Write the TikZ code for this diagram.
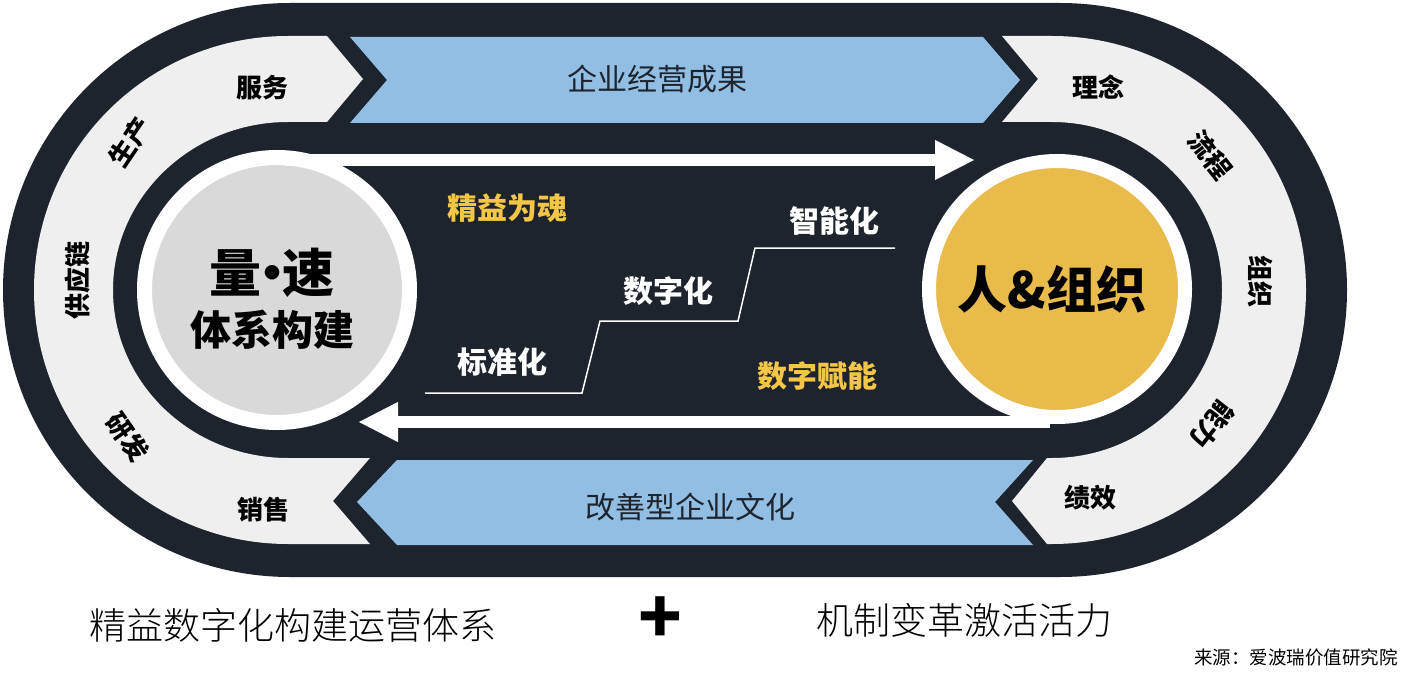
\documentclass[tikz,border=0pt]{standalone}
\usepackage{fontspec}
\newfontfamily\cjk{Noto Sans CJK SC}
\newfontfamily\cjklight{Noto Sans CJK SC Light}
\usetikzlibrary{arrows.meta}
\definecolor{navy}{HTML}{1D242E}
\definecolor{lgray}{HTML}{EFEFEF}
\definecolor{bandblue}{HTML}{92BEE4}
\definecolor{cgray}{HTML}{D9D9D9}
\definecolor{gold}{HTML}{E8BB4B}
\definecolor{ytext}{HTML}{F4C646}
\tikzset{
  fsz/.style={font=\cjk\fontsize{#1}{#1}\selectfont, inner sep=0pt},
  lfz/.style={font=\cjklight\fontsize{#1}{#1}\selectfont, inner sep=0pt},
  bfz/.style={font=\cjk\bfseries\fontsize{#1}{#1}\selectfont, inner sep=0pt},
  ringlbl/.style={bfz=26, text=black},
  steplbl/.style={bfz=30, text=white},
  keylbl/.style={bfz=30, text=ytext},
  bandlbl/.style={fsz=30, text=navy},
  warrow/.style={draw=white, line width=12pt, -{Triangle[length=40pt,width=37pt]}},
  stepline/.style={draw=white, line width=1.5pt},
}
\begin{document}
\begin{tikzpicture}[x=1pt, y=-1pt]
\useasboundingbox (0,0) rectangle (1411,674);
\fill[white] (0,0) rectangle (1411,674);
% outer stadium
\fill[navy] (290,3) -- (1060,3) arc[start angle=-90, end angle=90, radius=287]
  -- (290,577) arc[start angle=90, end angle=270, radius=287] -- cycle;
% left gray band
\fill[lgray] (327,36) -- (363,79) -- (327,122) -- (288,122)
  arc[start angle=270, end angle=90, x radius=175, y radius=168]
  -- (370,458) -- (333,501) -- (370,544) -- (288,544)
  arc[start angle=90, end angle=270, radius=254] -- cycle;
% right gray band
\fill[lgray] (1002,36) -- (1038,79) -- (1002,122) -- (1052,122)
  arc[start angle=270, end angle=450, x radius=170, y radius=168]
  -- (1047,458) -- (1012,501) -- (1047,544) -- (1052,544)
  arc[start angle=90, end angle=-90, radius=254] -- cycle;
% blue bands
\fill[bandblue] (350,37) -- (983,37) -- (1020,80) -- (983,123) -- (350,123) -- (387,80) -- cycle;
\fill[bandblue] (397,460) -- (1033,460) -- (995,502) -- (1033,545) -- (397,545) -- (357,502) -- cycle;
% circles
\node[circle, fill=cgray, draw=white, line width=15pt, minimum size=265pt, inner sep=0pt] (L) at (277,290) {};
\node[circle, fill=gold, draw=white, line width=14pt, minimum size=256pt, inner sep=0pt] (R) at (1057,289) {};
% white arrows
\coordinate (ta) at (285,160);
\coordinate (tb) at (975,160);
\coordinate (ba) at (1050,422);
\coordinate (bb) at (358,422);
\draw[warrow] (ta) -- (tb);
\draw[warrow] (ba) -- (bb);
% steps
\draw[stepline] (425,393) -- (582,393) -- (600,321) -- (738,321) -- (755,248) -- (895,248);
% ring labels
\node[ringlbl] (fw) at (262,88) {服务};
\node[ringlbl, rotate=56] (sc) at (130,142) {生产};
\node[ringlbl, rotate=90] (gyl) at (78,280) {供应链};
\node[ringlbl, rotate=-55] (yf) at (128,437) {研发};
\node[ringlbl] (xs) at (263,510) {销售};
\node[ringlbl] (ln) at (1098,87) {理念};
\node[ringlbl, rotate=-52] (lc) at (1210,155) {流程};
\node[ringlbl, rotate=-90] (zz) at (1260,281) {组织};
\node[ringlbl, rotate=-128] (nl) at (1212,425) {能力};
\node[ringlbl] (jx) at (1090,498) {绩效};
% band labels
\node[bandlbl] (qy) at (657,79) {企业经营成果};
\node[bandlbl] (gs) at (690,507) {改善型企业文化};
% center labels
\node[bfz=52, text=black] (ls) at (272,273) {量\kern-0.3em·\kern-0.3em速};
\node[bfz=41, text=black] (tx) at (272,330) {体系构建};
\node[bfz=50, text=black] (rz) at (1052,289) {人\&组织};
\node[keylbl] (jy) at (507,208) {精益为魂};
\node[keylbl] (sf) at (817,376) {数字赋能};
\node[steplbl] (zn) at (834,221) {智能化};
\node[steplbl] (sz) at (668,291) {数字化};
\node[steplbl] (bz) at (502,362) {标准化};
% bottom
\node[lfz=37, text=black] (b1) at (293,625) {精益数字化构建运营体系};
\node[bfz=72, text=black] (plus) at (660,620) {+};
\node[lfz=37, text=black] (b2) at (964,620) {机制变革激活活力};
\node[fsz=18.5, text=black] (src) at (1296,657) {来源：爱波瑞价值研究院};
\end{tikzpicture}
\end{document}
